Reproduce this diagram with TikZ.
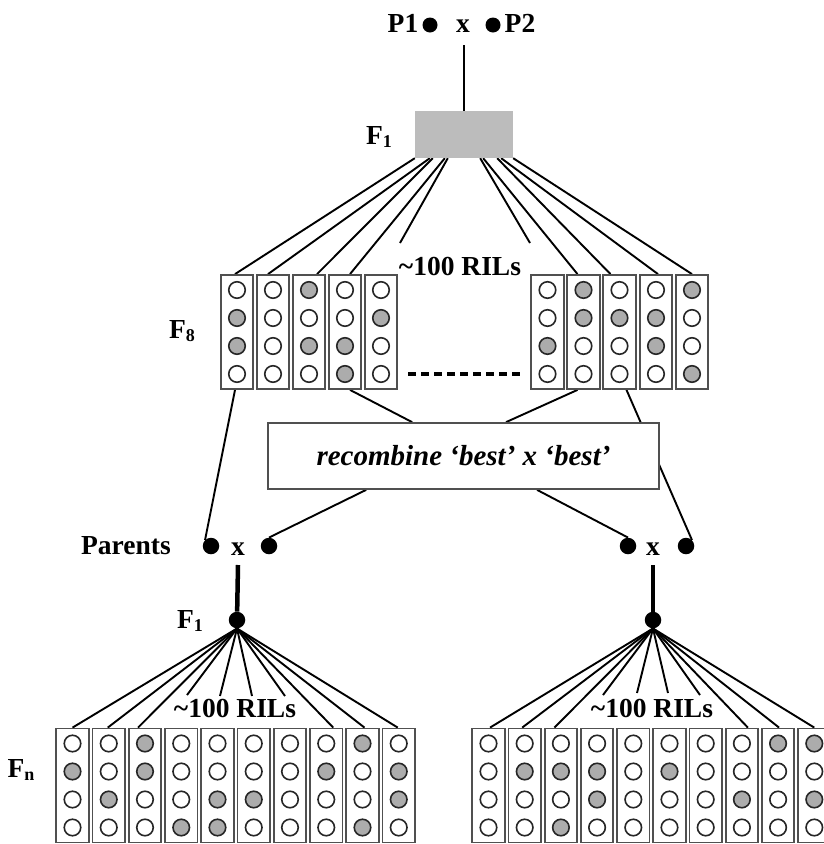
\documentclass[tikz,border=0pt]{standalone}
\usepackage{fontspec}
\setmainfont{Liberation Serif}
\usetikzlibrary{calc,backgrounds}
\definecolor{boxgray}{RGB}{188,188,188}
\definecolor{allelegray}{RGB}{172,172,172}
\definecolor{colframe}{RGB}{80,80,80}
\newcommand\mkcol[4]{%
  \node[rilcol] (#1) at (#2,#3) {};
  \foreach \g [count=\i] in {#4} {%
    \ifnum\g=1 \def\afill{allelegray}\else\def\afill{white}\fi
    \node[allele, fill=\afill] (#1-\i) at ({#2},{#3-42+(\i-1)*28}) {};
  }%
}
\newcommand\Flab[1]{F\raisebox{-0.3ex}{\fontsize{18}{18}\selectfont #1}}
\begin{document}
\begin{tikzpicture}[x=1pt,y=-1pt,
  rilcol/.style={draw=colframe, line width=1.8pt, minimum width=32.5pt, minimum height=114pt, inner sep=0pt, fill=white},
  allele/.style={circle, draw=black!85, line width=1.6pt, minimum size=16.5pt, inner sep=0pt},
  dotn/.style={circle, fill=black, minimum size=16.5pt, inner sep=0pt},
  conn/.style={line width=1.9pt},
  stem/.style={line width=4.5pt},
  lbl/.style={font=\bfseries\fontsize{27.5}{30}\selectfont, inner sep=0pt},
  ]
\useasboundingbox (0,0) rectangle (824,844);
\clip (0,0) rectangle (824,844);

% top
\node[lbl] (p1) at (403,23) {P1};
\node[dotn, minimum size=15pt] (d1) at (430,25) {};
\node[lbl] (px) at (463,26) {x};
\node[dotn, minimum size=15pt] (d2) at (493,25) {};
\node[lbl] (p2) at (520,23) {P2};
\node[fill=boxgray, minimum width=98pt, minimum height=47pt, inner sep=0pt] (f1box) at (464,134.5) {};
\node[lbl] (f1lab) at (379,137) {\Flab{1}};
\node[lbl] (f8lab) at (182,331) {\Flab{8}};
\node[lbl] (ril1) at (460,266) {\textasciitilde100 RILs};

% F8 columns
\mkcol{L1}{237}{332}{0,1,1,0}
\mkcol{L2}{273}{332}{0,0,0,0}
\mkcol{L3}{309}{332}{1,0,1,0}
\mkcol{L4}{345}{332}{0,0,1,1}
\mkcol{L5}{381}{332}{0,1,0,0}
\mkcol{R1}{547.5}{332}{0,0,1,0}
\mkcol{R2}{583.5}{332}{1,1,0,0}
\mkcol{R3}{619.5}{332}{0,1,0,0}
\mkcol{R4}{656}{332}{0,1,1,0}
\mkcol{R5}{692}{332}{1,0,0,1}
\draw[line width=4.5pt, dash pattern=on 8pt off 5pt] ($(L5.east)+(10,42)$) -- ($(R1.west)+(-10,42)$);

% recombine
\node[draw=colframe, line width=1.8pt, fill=white, minimum width=391pt, minimum height=66pt,
  font=\bfseries\itshape\fontsize{29}{31}\selectfont] (recomb) at (463.5,456) {recombine ‘best’ x ‘best’};

% parents
\node[lbl] (parents) at (126,546) {Parents};
\node[dotn] (PLa) at (211,546) {};
\node[lbl] (xL) at (238,549) {x};
\node[dotn] (PLb) at (269,546) {};
\node[dotn] (PRa) at (628,546) {};
\node[lbl] (xR) at (653,549) {x};
\node[dotn] (PRb) at (686,546) {};
\node[dotn] (FL) at (237,620) {};
\node[dotn] (FR) at (653,620) {};
\node[lbl] (f1blab) at (190,621) {\Flab{1}};
\node[lbl] (fnlab) at (21,770) {\Flab{n}};
\node[lbl] (ril2) at (235,708) {\textasciitilde100 RILs};
\node[lbl] (ril3) at (652,708) {\textasciitilde100 RILs};

% Fn columns
\mkcol{BL1}{72.5}{785.5}{0,1,0,0}
\mkcol{BL2}{108.75}{785.5}{0,0,1,0}
\mkcol{BL3}{145}{785.5}{1,1,0,0}
\mkcol{BL4}{181.25}{785.5}{0,0,0,1}
\mkcol{BL5}{217.5}{785.5}{0,0,1,1}
\mkcol{BL6}{253.75}{785.5}{0,0,1,0}
\mkcol{BL7}{290}{785.5}{0,0,0,0}
\mkcol{BL8}{326.25}{785.5}{0,1,0,0}
\mkcol{BL9}{362.5}{785.5}{1,0,0,1}
\mkcol{BL10}{398.75}{785.5}{0,1,1,0}
\mkcol{BR1}{488.5}{785.5}{0,0,0,0}
\mkcol{BR2}{524.7}{785.5}{0,1,0,0}
\mkcol{BR3}{560.9}{785.5}{0,1,0,1}
\mkcol{BR4}{597.1}{785.5}{0,1,1,0}
\mkcol{BR5}{633.3}{785.5}{0,0,0,0}
\mkcol{BR6}{669.5}{785.5}{0,1,0,0}
\mkcol{BR7}{705.7}{785.5}{0,0,0,0}
\mkcol{BR8}{741.9}{785.5}{0,0,1,0}
\mkcol{BR9}{778.1}{785.5}{1,0,0,0}
\mkcol{BR10}{814.3}{785.5}{1,0,1,0}

% stub ends
\coordinate (sTL) at (400,243);
\coordinate (sTR) at (530,243);
\coordinate (sBL1) at (187,695);
\coordinate (sBL2) at (220,696);
\coordinate (sBL3) at (252,696);
\coordinate (sBL4) at (285,696);
\coordinate (sBR1) at (603,695);
\coordinate (sBR2) at (637,693);
\coordinate (sBR3) at (668,693);
\coordinate (sBR4) at (700,695);

\begin{scope}[on background layer]
\draw[conn] ($(px.center)+(1,19)$) -- (f1box.north);
\draw[conn] (f1box.south west) -- ($(L1.north)+(-2,0)$);
\draw[conn] ($(f1box.south west)+(15,0)$) -- ($(L2.north)+(-5,0)$);
\draw[conn] ($(f1box.south west)+(18,0)$) -- ($(L3.north)+(8,0)$);
\draw[conn] ($(f1box.south west)+(30,0)$) -- ($(L4.north)+(5,0)$);
\draw[conn] ($(f1box.south west)+(33,0)$) -- (sTL);
\draw[conn] ($(f1box.south east)+(-33,0)$) -- (sTR);
\draw[conn] ($(f1box.south east)+(-30,0)$) -- ($(R2.north)+(-6,0)$);
\draw[conn] ($(f1box.south east)+(-16,0)$) -- ($(R3.north)+(-9,0)$);
\draw[conn] ($(f1box.south east)+(-12,0)$) -- ($(R4.north)+(2,0)$);
\draw[conn] (f1box.south east) -- (R5.north);

\draw[conn] ($(L1.south)+(-2,0)$) -- (PLa.north west);
\draw[conn] ($(L4.south)+(5,0)$) -- ($(recomb.north west)+(145,0)$);
\draw[conn] ($(R2.south)+(-6,0)$) -- ($(recomb.north west)+(239,0)$);
\draw[conn] ($(R3.south)+(7,0)$) -- (PRb.north east);
\draw[conn] ($(recomb.south west)+(99,0)$) -- (PLb.north);
\draw[conn] ($(recomb.south west)+(270,0)$) -- (PRa.north);

\draw[stem] ($(xL.center)+(0,16)$) -- (FL);
\draw[stem] ($(xR.center)+(0,16)$) -- (FR);

\draw[conn] (FL.south) -- (BL1.north);
\draw[conn] (FL.south) -- ($(BL2.north)+(-1,0)$);
\draw[conn] (FL.south) -- ($(BL3.north)+(-7,0)$);
\draw[conn] (FL.south) -- (sBL1);
\draw[conn] (FL.south) -- (sBL2);
\draw[conn] (FL.south) -- (sBL3);
\draw[conn] (FL.south) -- (sBL4);
\draw[conn] (FL.south) -- ($(BL8.north)+(7,0)$);
\draw[conn] (FL.south) -- ($(BL9.north)+(2,0)$);
\draw[conn] (FL.south) -- ($(BL10.north)+(-1,0)$);

\draw[conn] (FR.south) -- ($(BR1.north)+(1.5,0)$);
\draw[conn] (FR.south) -- ($(BR2.north)+(-2.5,0)$);
\draw[conn] (FR.south) -- ($(BR3.north)+(-6.5,0)$);
\draw[conn] (FR.south) -- (sBR1);
\draw[conn] (FR.south) -- (sBR2);
\draw[conn] (FR.south) -- (sBR3);
\draw[conn] (FR.south) -- (sBR4);
\draw[conn] (FR.south) -- ($(BR8.north)+(6,0)$);
\draw[conn] (FR.south) -- ($(BR9.north)+(1,0)$);
\draw[conn] (FR.south) -- (BR10.north);
\end{scope}
\end{tikzpicture}
\end{document}
